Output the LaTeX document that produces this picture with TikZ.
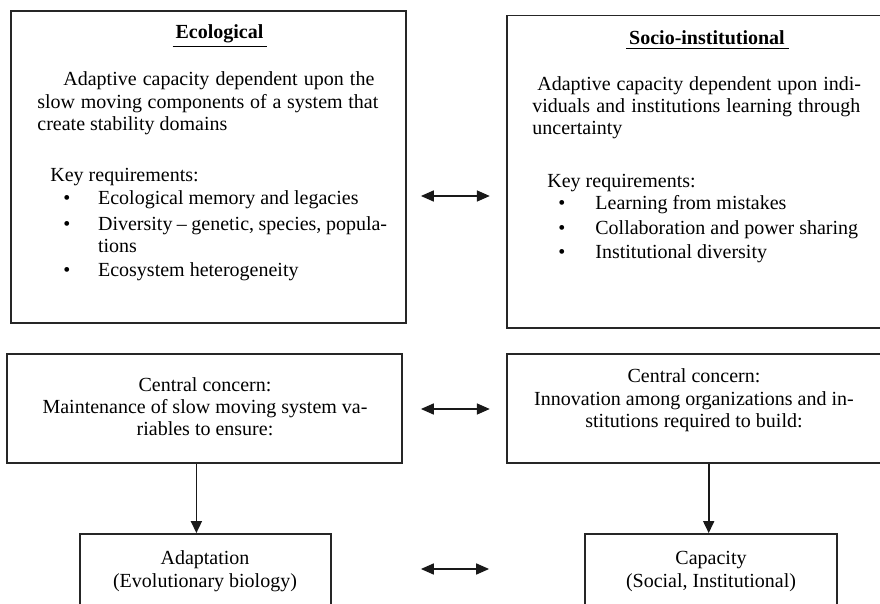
\documentclass[tikz,border=0pt]{standalone}
\usepackage{fontspec}
\setmainfont{Liberation Serif}
\usetikzlibrary{arrows.meta,fit}

\newcommand\justline[2]{\makebox[#1][s]{#2}}

\begin{document}
\begin{tikzpicture}[x=0.5pt,y=-0.5pt,
  box/.style={draw=black!85, line width=0.9pt, inner sep=0pt},
  txt/.style={inner sep=0pt, font=\fontsize{10}{12}\selectfont},
  lft/.style={txt, anchor=base west},
  ctr/.style={txt, anchor=base},
  link/.style={line width=0.85pt, draw=black!90},
  dbl/.style={link, {Triangle[length=6.5pt,width=5.5pt]}-{Triangle[length=6.5pt,width=5.5pt]}},
  down/.style={link, -{Triangle[length=6pt,width=5.5pt]}}]

\useasboundingbox (0,0) rectangle (880,604);
\clip (0,0) rectangle (880,604);

% ---- boxes ----
\node[box, fit={(10.7,11) (405.7,323)}] (eco) {};
\node[box, fit={(507,15.5) (900,328)}] (soc) {};
\node[box, fit={(6.7,354) (402,463)}] (cenL) {};
\node[box, fit={(507,354) (900,463)}] (cenR) {};
\node[box, fit={(79.7,534) (331,660)}] (adapt) {};
\node[box, fit={(585,534) (837,660)}] (cap) {};

% ---- ecological box ----
\node[ctr] (ecoT) at (220,39) {\textbf{\underline{\hspace{1.5pt}Ecological\hspace{2pt}}}};
\node[lft] (eco1) at (63,86) {\justline{155.5pt}{Adaptive capacity dependent upon the}};
\node[lft] (eco2) at (37,109) {\justline{170.5pt}{slow moving components of a system that}};
\node[lft] (eco3) at (37,131) {create stability domains};
\node[lft] (ecoK) at (50,182) {Key requirements:};
\node[lft] (ecoB1) at (63,205) {\textbullet};
\node[lft] (ecoI1) at (97.7,205) {Ecological memory and legacies};
\node[lft] (ecoB2) at (63,231) {\textbullet};
\node[lft] (ecoI2) at (97.7,231) {\justline{144.5pt}{Diversity – genetic, species, popula-}};
\node[lft] (ecoI2b) at (97.7,253) {tions};
\node[lft] (ecoB3) at (63,277) {\textbullet};
\node[lft] (ecoI3) at (97.7,277) {Ecosystem heterogeneity};

% ---- socio-institutional box ----
\node[ctr] (socT) at (707.5,45) {\textbf{\underline{\hspace{1.5pt}Socio-institutional\hspace{2pt}}}};
\node[lft] (soc1) at (537,91) {\justline{161.8pt}{Adaptive capacity dependent upon indi-}};
\node[lft] (soc2) at (532,113) {\justline{164pt}{viduals and institutions learning through}};
\node[lft] (soc3) at (532,135) {uncertainty};
\node[lft] (socK) at (547,188) {Key requirements:};
\node[lft] (socB1) at (558,210) {\textbullet};
\node[lft] (socI1) at (595,210) {Learning from mistakes};
\node[lft] (socB2) at (558,235) {\textbullet};
\node[lft] (socI2) at (595,235) {Collaboration and power sharing};
\node[lft] (socB3) at (558,259) {\textbullet};
\node[lft] (socI3) at (595,259) {Institutional diversity};

% ---- central concerns ----
\node[ctr] (cl1) at (205,392) {Central concern:};
\node[ctr] (cl2) at (205,414) {Maintenance of slow moving system va-};
\node[ctr] (cl3) at (205,436) {riables to ensure:};
\node[ctr] (cr1) at (694,383) {Central concern:};
\node[ctr] (cr2) at (694,406) {Innovation among organizations and in-};
\node[ctr] (cr3) at (694,428) {stitutions required to build:};

% ---- outcomes ----
\node[ctr] (ad1) at (205,565) {Adaptation};
\node[ctr] (ad2) at (205,588) {(Evolutionary biology)};
\node[ctr] (ca1) at (711,565) {Capacity};
\node[ctr] (ca2) at (711,588) {(Social, Institutional)};

% ---- connectors ----
\coordinate (r1) at (455,196);
\coordinate (r2) at (455,409);
\coordinate (r3) at (455,569);
\coordinate (dl) at (196.4,500);
\coordinate (dr) at (708.7,500);

\draw[dbl, shorten <=7.15pt, shorten >=8.15pt] (eco.east |- r1) -- (soc.west |- r1);
\draw[dbl, shorten <=9pt, shorten >=8.15pt] (cenL.east |- r2) -- (cenR.west |- r2);
\draw[dbl, shorten <=44.5pt, shorten >=47.5pt] (adapt.east |- r3) -- (cap.west |- r3);
\draw[down] (cenL.south -| dl) -- (adapt.north -| dl);
\draw[down] (cenR.south -| dr) -- (cap.north -| dr);
\end{tikzpicture}
\end{document}
